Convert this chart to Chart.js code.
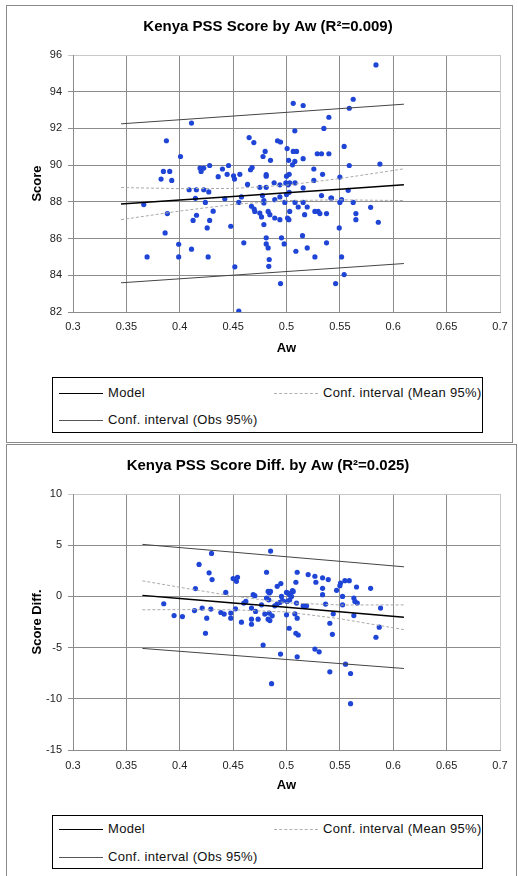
<!DOCTYPE html>
<html><head><meta charset="utf-8">
<script src="https://cdn.jsdelivr.net/npm/chart.js@4/dist/chart.umd.min.js"></script>
<style>
html,body{margin:0;padding:0;background:#fff;}
body{width:518px;height:876px;position:relative;overflow:hidden;font-family:"Liberation Sans",Arial,sans-serif;}
.panel{position:absolute;border:1px solid #8a8a8a;box-sizing:border-box;}
canvas{position:absolute;left:0;}
.legend{position:absolute;left:52px;width:431px;border:1px solid #000;box-sizing:border-box;overflow:hidden;font-size:13px;letter-spacing:0.3px;color:#111;background:#fff;}
.item{position:absolute;white-space:nowrap;height:14px;line-height:14px;}
.sw{position:absolute;width:44px;top:7px;left:0;}
.item span{position:absolute;left:49px;top:0;}
</style></head>
<body>
<div class="panel" style="left:6px;top:5px;width:507px;height:438px;"></div>
<div class="panel" style="left:6px;top:444px;width:511px;height:440px;"></div>
<canvas id="c1" width="518" height="370" style="top:0px"></canvas>
<canvas id="c2" width="518" height="370" style="top:440px"></canvas>

<div class="legend" style="top:377px;height:56px;">
  <div class="item" style="left:6px;top:8px;width:200px;"><div class="sw" style="border-top:1.5px solid #000;"></div><span>Model</span></div>
  <div class="item" style="left:221px;top:8px;width:220px;"><div class="sw" style="border-top:1px dashed #b0b0b0;"></div><span>Conf. interval (Mean 95%)</span></div>
  <div class="item" style="left:6px;top:35px;width:200px;"><div class="sw" style="border-top:1px solid #555;"></div><span>Conf. interval (Obs 95%)</span></div>
</div>
<div class="legend" style="top:815px;height:54px;">
  <div class="item" style="left:6px;top:6px;width:200px;"><div class="sw" style="border-top:1.5px solid #000;"></div><span>Model</span></div>
  <div class="item" style="left:221px;top:6px;width:220px;"><div class="sw" style="border-top:1px dashed #b0b0b0;"></div><span>Conf. interval (Mean 95%)</span></div>
  <div class="item" style="left:6px;top:34px;width:200px;"><div class="sw" style="border-top:1px solid #555;"></div><span>Conf. interval (Obs 95%)</span></div>
</div>

<script>
// ---- axis ticks ----
const xTickValues = [0.3,0.35,0.4,0.45,0.5,0.55,0.6,0.65,0.7];
const xTickLabels = ['0.3','0.35','0.4','0.45','0.5','0.55','0.6','0.65','0.7'];
const scoreTickValues = [82,84,86,88,90,92,94,96];
const diffTickValues = [-15,-10,-5,0,5,10];

// ---- chart 1: Score by Aw ----
const scoreAw = [0.411,0.3875,0.4007,0.465,0.4694,0.4916,0.4944,0.5006,0.478,0.480,0.485,0.502,0.3847,0.3906,0.3825,0.3925,0.419,0.4225,0.420,0.428,0.440,0.4457,0.4444,0.4504,0.4513,0.4563,0.4678,0.4663,0.481,0.481,0.4635,0.436,0.4884,0.475,0.481,0.5,
0.5838,0.5063,0.5156,0.5625,0.5588,0.5397,0.5078,0.535,0.5063,0.5094,0.5288,0.5328,0.5397,0.554,0.5078,0.5056,0.5156,0.5588,0.5875,0.5256,0.5338,0.55,0.5256,0.5025,0.4994,0.503,0.508,0.5156,
0.4088,0.4156,0.4225,0.4272,0.4938,0.5016,0.3663,0.3884,0.3863,0.3694,0.399,0.399,0.411,0.4266,0.4147,0.424,0.4157,0.4125,0.4313,0.428,0.4257,0.4422,0.4478,0.4516,0.4553,0.4578,0.46,0.4553,0.4672,0.4697,0.4703,0.475,0.4766,0.4788,0.4775,0.4788,0.4788,0.481,0.481,0.4828,0.4834,0.4838,0.4828,0.4844,0.489,0.489,0.4938,0.4944,0.4953,0.4978,0.4984,0.5022,0.501,0.5,
0.4938,0.5025,0.508,0.5156,0.511,0.5194,0.517,0.503,0.5266,0.5297,0.5313,0.5375,0.5328,0.5416,0.5422,0.55,0.5516,0.5578,0.5625,0.565,0.565,0.5788,0.586,0.5494,0.515,0.5375,0.5088,0.5194,0.5266,0.5516,0.554,0.546];
const scoreVal = [92.29,91.33,90.47,91.5,91.23,91.33,91.26,90.9,90.47,90.75,90.26,90.26,89.66,89.66,89.24,89.17,89.84,89.84,89.66,89.98,89.79,89.98,89.5,89.42,89.24,89.5,89.87,89.75,89.48,89.4,88.95,89.37,89.04,88.79,88.79,89.4,
95.46,93.37,93.25,93.59,93.1,92.61,91.87,92.0,90.75,90.75,90.62,90.62,90.62,91.02,90.2,90.02,90.35,89.98,90.06,89.79,89.5,89.35,89.17,89.5,89.03,89.03,89.03,88.76,
88.66,88.66,88.66,88.54,88.93,88.93,87.85,87.36,86.31,85.0,85.69,85.0,85.42,85.0,88.19,87.97,87.27,86.99,87.49,86.99,86.58,88.17,86.67,84.46,87.97,88.27,85.77,82.05,87.76,87.61,87.48,87.39,87.18,86.76,88.34,88.07,87.94,86.04,85.71,85.49,84.49,84.86,87.48,87.3,88.12,87.12,87.03,83.55,86.04,85.71,87.97,87.03,87.12,88.4,
88.27,88.52,87.97,87.97,87.72,87.72,87.3,87.48,87.48,87.48,87.36,87.36,88.34,88.21,88.21,87.97,88.12,88.63,87.97,87.36,87.03,87.7,86.89,86.58,86.16,85.77,85.31,85.49,85.0,85.0,84.04,83.55];

const fitAwTop = [0.345,0.40,0.45,0.50,0.55,0.61];
const modelTop = [87.88,88.10,88.29,88.49,88.69,88.93];
const meanUpTop = [88.78,88.72,88.73,88.91,89.27,89.80];
const meanLoTop = [87.03,87.50,87.86,88.07,88.11,88.07];
const obsAwTop = [0.345,0.61];
const obsUpTop = [92.25,93.32];
const obsLoTop = [83.59,84.64];

// ---- chart 2: Score Diff. by Aw ----
const diffAw = [0.4298,0.4851,0.4181,0.4275,0.4303,0.45,0.4541,0.4531,0.4813,0.4913,0.4947,0.4147,0.4431,0.4688,0.4703,0.4828,0.485,0.484,0.5016,
0.51,0.5203,0.5266,0.5338,0.5391,0.5088,0.5275,0.5547,0.5588,0.5506,0.55,0.5656,0.5788,0.5338,0.5469,0.5,0.5056,0.503,0.5338,0.5525,0.5631,
0.385,0.3947,0.4025,0.4138,0.421,0.4291,0.4253,0.4241,0.4385,0.4416,0.4478,0.4478,0.4522,0.4578,0.46,0.4619,0.4672,0.4672,0.4672,0.471,0.4734,0.4766,0.4781,0.4797,0.4813,0.4834,0.4838,0.4828,0.4844,0.4866,0.486,0.489,0.4913,0.4938,0.4963,0.4944,0.5,0.5025,
0.4953,0.5006,0.503,0.5047,0.5063,0.5094,0.5156,0.5188,0.517,0.5366,0.5525,0.5641,0.5663,0.5078,0.51,0.5438,0.5631,0.5881,0.5406,0.5869,0.5088,0.511,0.543,0.5838,0.5266,0.5306,0.51,0.5553,0.5406,0.56,0.56];
const diffVal = [4.2,4.43,3.12,2.3,1.64,1.74,1.87,1.47,2.36,0.98,1.25,0.76,0.39,0.17,0.07,0.49,0.49,0.33,0.33,
2.36,2.13,1.97,1.81,1.64,1.38,1.38,1.54,1.54,1.31,1.05,0.92,0.79,0.79,0.59,0.39,0.56,0.17,0.17,0.0,-0.16,
-0.72,-1.87,-1.97,-1.38,-1.14,-1.24,-2.13,-3.6,-1.57,-1.73,-1.63,-2.13,-1.21,-2.52,-0.65,-0.49,-1.14,-2.22,-2.72,-1.47,-2.22,-0.82,-4.75,-1.73,-0.16,-0.33,-1.63,-2.22,-2.36,-1.9,-8.52,-0.92,-0.72,-0.59,-0.42,-5.63,-1.8,-3.11,
0.0,-0.49,-0.33,0.0,0.49,-0.65,-0.92,-0.92,-0.98,-0.75,-0.82,-0.49,-0.65,-1.7,-2.13,-1.7,-1.87,-1.14,-2.62,-3.01,-3.6,-3.77,-3.7,-3.99,-5.14,-5.41,-5.9,-6.62,-7.37,-7.53,-10.48];

const fitAwBot = [0.365,0.40,0.45,0.50,0.55,0.61];
const modelBot = [0.10,-0.20,-0.64,-1.07,-1.51,-2.03];
const meanUpBot = [1.52,0.89,0.03,-0.62,-0.84,-0.83];
const meanLoBot = [-1.31,-1.29,-1.31,-1.52,-2.18,-3.25];
const obsAwBot = [0.365,0.61];
const obsUpBot = [5.08,2.89];
const obsLoBot = [-5.08,-7.04];

const FONT = '"Liberation Sans", Arial, sans-serif';
const pts = (xs, ys) => xs.map((x, i) => ({x, y: ys[i]}));

function lineDs(label, xs, ys, color, width, dash, order) {
  return {label, data: pts(xs, ys), showLine: true, borderColor: color, borderWidth: width,
    borderDash: dash, pointRadius: 0, pointHoverRadius: 0, fill: false, tension: 0, order};
}

function makeChart(id, o) {
  const lastY = o.yTicks.length - 1;
  const lastX = xTickValues.length - 1;
  return new Chart(document.getElementById(id), {
    type: 'scatter',
    data: {datasets: [
      lineDs('Model', o.fitX, o.model, '#000', 1.5, [], 1),
      lineDs('Conf. interval (Mean 95%)', o.fitX, o.meanUp, '#aaaaaa', 1, [3, 2], 2),
      lineDs('Conf. interval (Mean 95%) low', o.fitX, o.meanLo, '#aaaaaa', 1, [3, 2], 2),
      lineDs('Conf. interval (Obs 95%)', o.obsX, o.obsUp, '#444', 1, [], 3),
      lineDs('Conf. interval (Obs 95%) low', o.obsX, o.obsLo, '#444', 1, [], 3),
      {label: o.pointLabel, data: pts(o.px, o.py), backgroundColor: '#1f45d6', borderWidth: 0,
       pointRadius: 2.6, pointHoverRadius: 2.6, showLine: false, order: 4}
    ]},
    options: {
      responsive: false, animation: false, devicePixelRatio: 1,
      layout: {padding: {left: 36, right: 18, top: 0, bottom: 0}},
      plugins: {
        legend: {display: false}, tooltip: {enabled: false},
        title: {display: true, text: o.title, color: '#000',
          font: {family: FONT, size: 15, weight: 'bold', lineHeight: 1.2},
          padding: {top: o.titleTop, bottom: o.titleBottom}}
      },
      scales: {
        x: {type: 'linear', min: 0.3, max: 0.7,
          afterBuildTicks: s => { s.ticks = xTickValues.map(v => ({value: v})); },
          afterFit: s => { s.height = o.xHeight; },
          ticks: {callback: (v, i) => xTickLabels[i], color: '#222', padding: o.xPad, maxRotation: 0,
            font: {family: FONT, size: 11}},
          grid: {color: c => (c.index === lastX ? '#c8c8c8' : '#8c8c8c'), lineWidth: 1, drawTicks: false},
          border: {display: true, color: '#8c8c8c'},
          title: {display: true, text: 'Aw', color: '#000', font: {family: FONT, size: 13, weight: 'bold', lineHeight: 1.2},
            padding: {top: 0, bottom: o.xTitlePad}}
        },
        y: {type: 'linear', min: o.yMin, max: o.yMax,
          afterBuildTicks: s => { s.ticks = o.yTicks.map(v => ({value: v})); },
          afterFit: s => { s.width = 37; },
          ticks: {callback: (v, i) => String(o.yTicks[i]), color: '#222', padding: 6,
            font: {family: FONT, size: 11}},
          grid: {color: c => (c.index === lastY ? '#c8c8c8' : '#8c8c8c'), lineWidth: 1, drawTicks: true, tickLength: 5},
          border: {display: true, color: '#8c8c8c'},
          title: {display: true, text: o.yTitle, color: '#000', font: {family: FONT, size: 13, weight: 'bold', lineHeight: 1.2},
            padding: {top: -6.8, bottom: 0}}
        }
      }
    }
  });
}

makeChart('c1', {
  title: 'Kenya PSS Score by Aw (R\u00B2=0.009)', titleTop: 18, titleBottom: 19,
  yTitle: 'Score', yMin: 82, yMax: 96, yTicks: scoreTickValues,
  xHeight: 58, xPad: 8, xTitlePad: 14.2, pointLabel: 'Score',
  px: scoreAw, py: scoreVal,
  fitX: fitAwTop, model: modelTop, meanUp: meanUpTop, meanLo: meanLoTop,
  obsX: obsAwTop, obsUp: obsUpTop, obsLo: obsLoTop
});

makeChart('c2', {
  title: 'Kenya PSS Score Diff. by Aw (R\u00B2=0.025)', titleTop: 17, titleBottom: 19,
  yTitle: 'Score Diff.', yMin: -15, yMax: 10, yTicks: diffTickValues,
  xHeight: 60, xPad: 9, xTitlePad: 17.2, pointLabel: 'Score Diff.',
  px: diffAw, py: diffVal,
  fitX: fitAwBot, model: modelBot, meanUp: meanUpBot, meanLo: meanLoBot,
  obsX: obsAwBot, obsUp: obsUpBot, obsLo: obsLoBot
});
</script>
</body></html>
